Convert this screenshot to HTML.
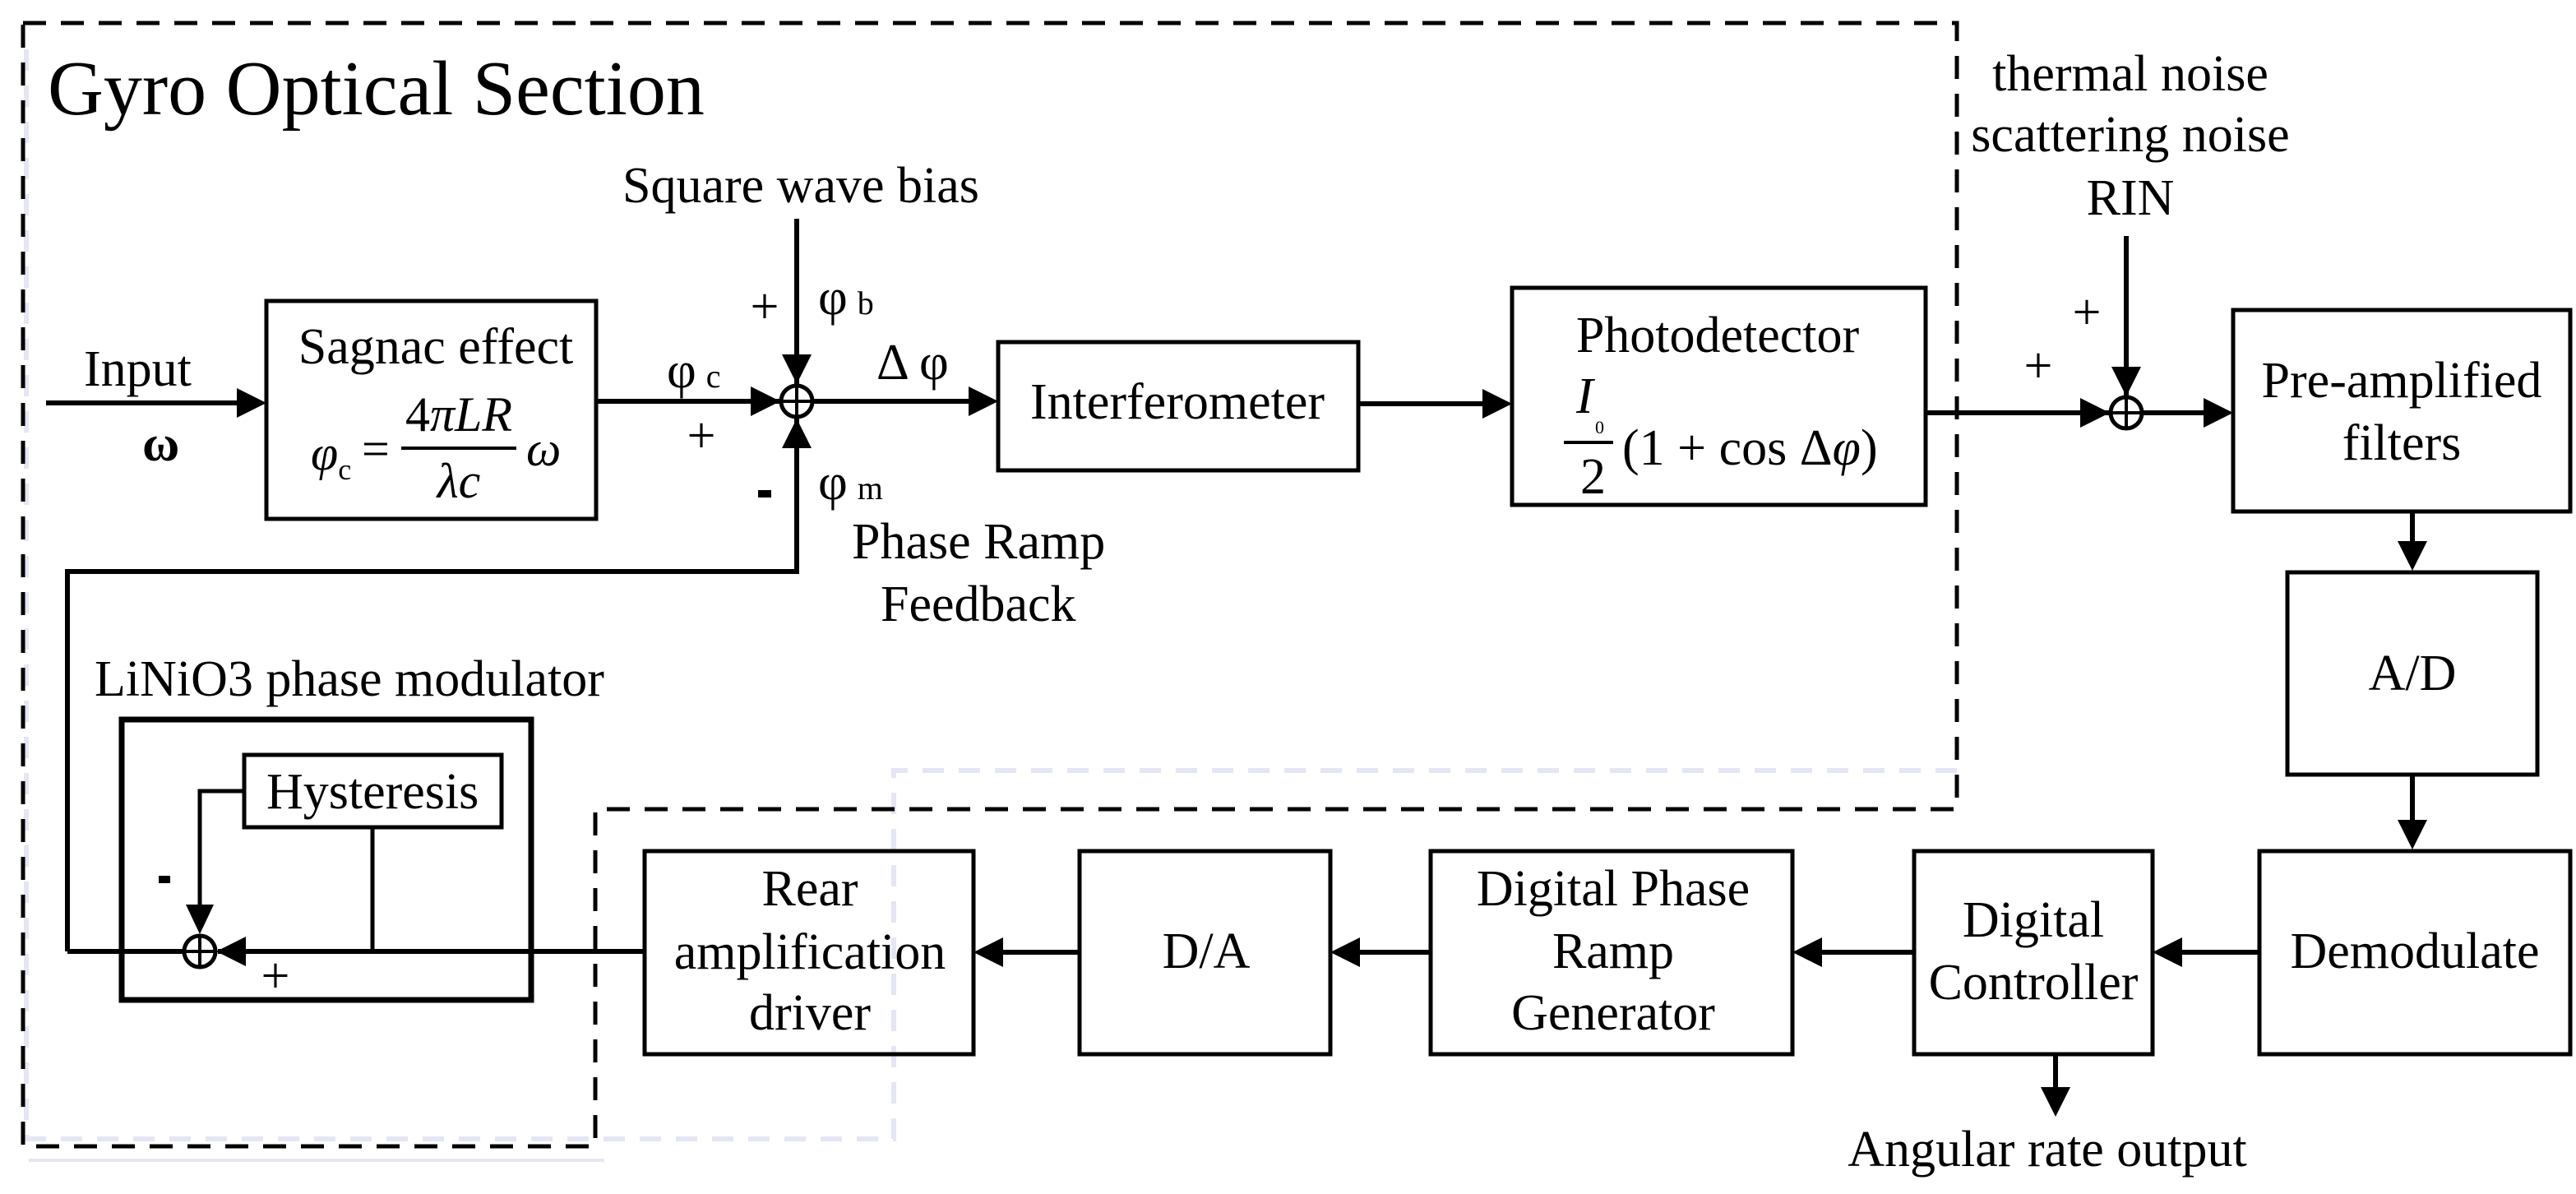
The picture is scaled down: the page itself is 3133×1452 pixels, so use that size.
<!DOCTYPE html>
<html><head><meta charset="utf-8"><style>
html,body{margin:0;padding:0;background:#fff;}
svg{display:block;}
text{font-family:"Liberation Serif",serif;fill:#000;}
</style></head><body>
<svg width="3133" height="1452" viewBox="0 0 3133 1452" xmlns="http://www.w3.org/2000/svg">
<!-- light dashed regions -->
<g stroke="#e4e6f3" stroke-width="6" fill="none" stroke-dasharray="26,18">
<polyline points="2380,937 1087,937 1087,1385 30,1385"/>
<line x1="32" y1="60" x2="32" y2="1385"/>
</g>
<line x1="35" y1="1411" x2="735" y2="1411" stroke="#e4e6f3" stroke-width="4"/>
<!-- main dashed L region -->
<polygon points="28,28 2380,28 2380,984 724,984 724,1394 28,1394" fill="none" stroke="#000" stroke-width="5" stroke-dasharray="28,18"/>

<text x="58" y="139" font-size="94">Gyro Optical Section</text>

<!-- boxes -->
<g fill="none" stroke="#000" stroke-width="5">
<rect x="324" y="366" width="401" height="265"/>
<rect x="1214" y="416" width="438" height="156"/>
<rect x="1839" y="350" width="503" height="264"/>
<rect x="2716" y="377" width="410" height="245"/>
<rect x="2782" y="696" width="304" height="246"/>
<rect x="2748" y="1035" width="378" height="247"/>
<rect x="2328" y="1035" width="290" height="247"/>
<rect x="1740" y="1035" width="440" height="247"/>
<rect x="1313" y="1035" width="305" height="247"/>
<rect x="784" y="1035" width="400" height="247"/>
<rect x="297" y="918" width="313" height="88"/>
<rect x="148" y="875" width="498" height="341" stroke-width="7"/>
</g>

<!-- connector lines -->
<g stroke="#000" stroke-width="6" fill="none">
<line x1="56" y1="490" x2="300" y2="490"/>
<line x1="725" y1="488" x2="950" y2="488"/>
<line x1="969" y1="266" x2="969" y2="470"/>
<line x1="990" y1="488" x2="1190" y2="488"/>
<polyline points="82,1157 82,695 969,695 969,506"/>
<line x1="1652" y1="491" x2="1815" y2="491"/>
<line x1="2342" y1="502" x2="2566" y2="502"/>
<line x1="2586" y1="287" x2="2586" y2="482"/>
<line x1="2606" y1="502" x2="2692" y2="502"/>
<line x1="2934" y1="622" x2="2934" y2="670"/>
<line x1="2934" y1="942" x2="2934" y2="1010"/>
<line x1="2748" y1="1158" x2="2642" y2="1158"/>
<line x1="2328" y1="1158" x2="2204" y2="1158"/>
<line x1="1740" y1="1158" x2="1642" y2="1158"/>
<line x1="1313" y1="1158" x2="1208" y2="1158"/>
<line x1="784" y1="1157" x2="265" y2="1157"/>
<line x1="82" y1="1157" x2="225" y2="1157"/>
<line x1="2500" y1="1282" x2="2500" y2="1334"/>
<polyline points="297,962 243,962 243,1108" stroke-width="5"/>
<line x1="453" y1="1006" x2="453" y2="1157" stroke-width="5"/>
</g>

<!-- arrowheads -->
<g fill="#000">
<polygon points="324,490 288,472 288,508"/>
<polygon points="949,488 913,470 913,506"/>
<polygon points="969,467 951,431 987,431"/>
<polygon points="969,509 951,545 987,545"/>
<polygon points="1214,488 1178,470 1178,506"/>
<polygon points="1839,491 1803,473 1803,509"/>
<polygon points="2566,502 2530,484 2530,520"/>
<polygon points="2586,482 2568,446 2604,446"/>
<polygon points="2716,502 2680,484 2680,520"/>
<polygon points="2934,694 2916,658 2952,658"/>
<polygon points="2934,1033 2916,997 2952,997"/>
<polygon points="2618,1158 2654,1140 2654,1176"/>
<polygon points="2180,1158 2216,1140 2216,1176"/>
<polygon points="1618,1158 1654,1140 1654,1176"/>
<polygon points="1184,1158 1220,1140 1220,1176"/>
<polygon points="263,1157 299,1139 299,1175"/>
<polygon points="243,1136 226,1100 260,1100"/>
<polygon points="2500,1358 2482,1322 2518,1322"/>
</g>

<!-- summing junctions -->
<g fill="#fff" stroke="#000" stroke-width="5">
<circle cx="969" cy="488" r="19"/>
<circle cx="2586" cy="502" r="19"/>
<circle cx="243" cy="1157" r="19"/>
</g>
<g stroke="#000" stroke-width="4">
<line x1="950" y1="488" x2="988" y2="488"/><line x1="969" y1="469" x2="969" y2="507"/>
<line x1="2567" y1="502" x2="2605" y2="502"/><line x1="2586" y1="483" x2="2586" y2="521"/>
<line x1="224" y1="1157" x2="262" y2="1157"/><line x1="243" y1="1138" x2="243" y2="1176"/>
</g>

<!-- labels -->
<g font-size="62">
<text x="102" y="469">Input</text>
<text x="173" y="560" font-weight="bold">ω</text>
<text x="530" y="442" text-anchor="middle">Sagnac effect</text>
<text x="757" y="246">Square wave bias</text>
<text x="1253" y="509">Interferometer</text>
<text x="2089" y="428" text-anchor="middle">Photodetector</text>
<text x="2591" y="110" text-anchor="middle">thermal noise</text>
<text x="2591" y="184" text-anchor="middle">scattering noise</text>
<text x="2591" y="261" text-anchor="middle">RIN</text>
<text x="2921" y="483" text-anchor="middle">Pre-amplified</text>
<text x="2921" y="559" text-anchor="middle">filters</text>
<text x="2934" y="839" text-anchor="middle">A/D</text>
<text x="2937" y="1177" text-anchor="middle">Demodulate</text>
<text x="2473" y="1139" text-anchor="middle">Digital</text>
<text x="2473" y="1215" text-anchor="middle">Controller</text>
<text x="2490" y="1418" text-anchor="middle">Angular rate output</text>
<text x="1962" y="1101" text-anchor="middle">Digital Phase</text>
<text x="1962" y="1177" text-anchor="middle">Ramp</text>
<text x="1962" y="1252" text-anchor="middle">Generator</text>
<text x="1467" y="1177" text-anchor="middle">D/A</text>
<text x="985" y="1101" text-anchor="middle">Rear</text>
<text x="985" y="1178" text-anchor="middle">amplification</text>
<text x="985" y="1252" text-anchor="middle">driver</text>
<text x="324" y="983">Hysteresis</text>
<text x="115" y="846">LiNiO3 phase modulator</text>
<text x="1036" y="679">Phase Ramp</text>
<text x="1071" y="755">Feedback</text>
<text x="811" y="471">φ<tspan font-size="40" dx="12">c</tspan></text>
<text x="995" y="382">φ<tspan font-size="40" dx="12">b</tspan></text>
<text x="995" y="607">φ<tspan font-size="40" dx="12">m</tspan></text>
<text x="1066" y="461">Δ φ</text>
<text x="853" y="550" text-anchor="middle">+</text>
<text x="930" y="393" text-anchor="middle">+</text>
<text x="2538" y="400" text-anchor="middle">+</text>
<text x="2479" y="465" text-anchor="middle">+</text>
<text x="335" y="1207" text-anchor="middle">+</text>
</g>
<rect x="922" y="596" width="16" height="9" fill="#000"/>
<rect x="193" y="1065" width="14" height="9" fill="#000"/>

<!-- Sagnac formula -->
<g font-size="60">
<text x="378" y="571" font-style="italic">φ<tspan font-size="36" font-style="normal" dy="12">c</tspan></text>
<text x="440" y="566">=</text>
<text x="558" y="524" text-anchor="middle">4<tspan font-style="italic">πLR</tspan></text>
<text x="558" y="605" text-anchor="middle" font-style="italic">λc</text>
<text x="640" y="566" font-style="italic">ω</text>
</g>
<line x1="488" y1="545" x2="628" y2="545" stroke="#000" stroke-width="4"/>

<!-- Photodetector formula -->
<g font-size="62">
<text x="1917" y="502" font-style="italic">I</text>
<text x="1940" y="527" font-size="22">0</text>
<text x="1922" y="600">2</text>
<text x="1973" y="565">(1 + cos Δ<tspan font-style="italic">φ</tspan>)</text>
</g>
<line x1="1902" y1="538" x2="1962" y2="538" stroke="#000" stroke-width="4"/>
</svg>
</body></html>
